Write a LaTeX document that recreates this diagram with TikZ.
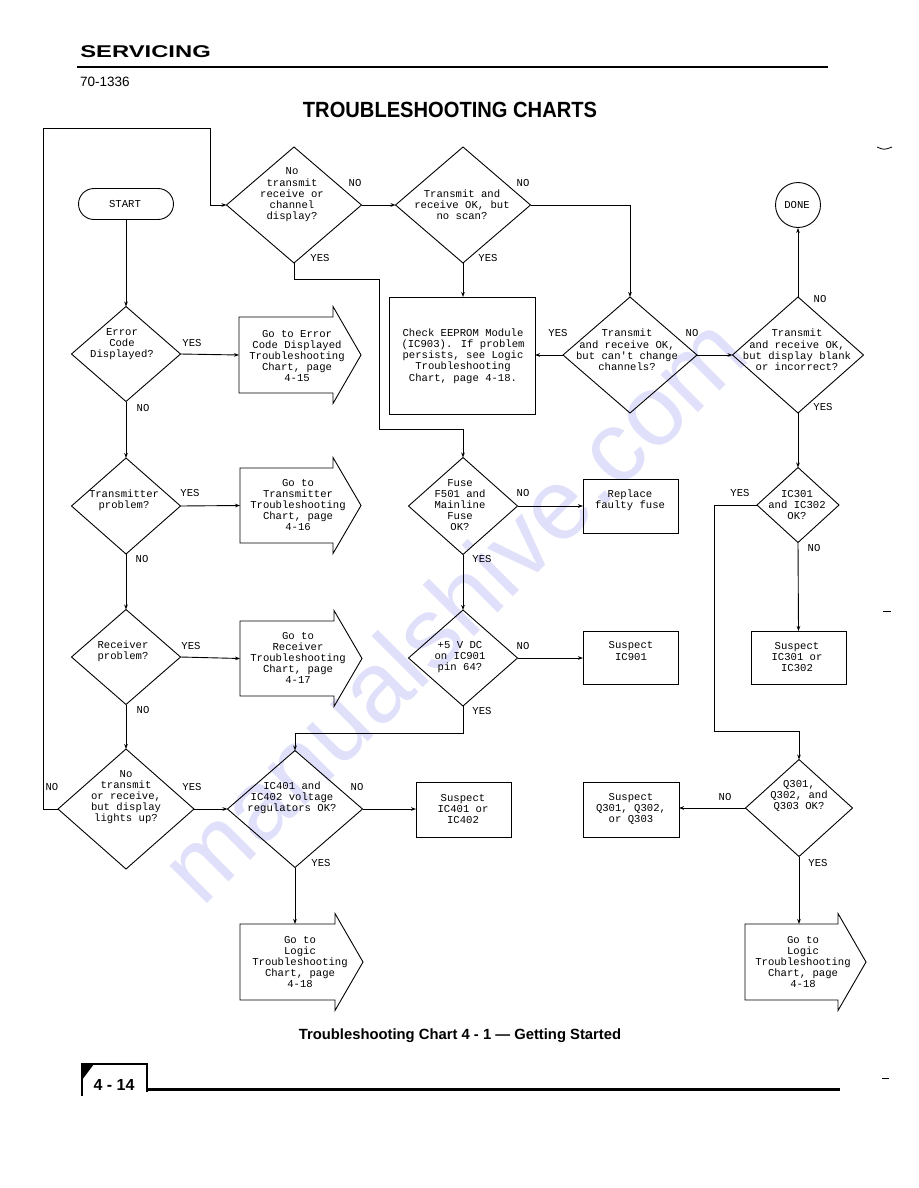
\documentclass[tikz,border=0pt]{standalone}
\usepackage{fontspec}
\setmainfont{Liberation Sans}
\newfontfamily\plotfont{Liberation Mono}
\usetikzlibrary{shapes.geometric,arrows.meta,calc}
\definecolor{wmcol}{RGB}{224,224,251}
\newcommand\drawgo[1]{%
  \draw[ln] (#1.south west) -- (#1.north west) -- (#1.north east) -- ([yshift=10.5pt]#1.north east)
    -- ([xshift=28pt]#1.east) -- ([yshift=-10.5pt]#1.south east) -- (#1.south east) -- cycle;}
\begin{document}
\begin{tikzpicture}[x=1pt,y=-1pt,
  ln/.style={line width=0.9pt},
  arr/.style={ln,-{Stealth[length=5pt,width=3.6pt]}},
  dia/.style={draw,ln,diamond,inner sep=0pt,outer sep=0pt},
  box/.style={draw,ln,rectangle,inner sep=0pt,outer sep=0pt},
  gorect/.style={rectangle,inner sep=0pt,outer sep=0pt},
  txt/.style={font=\plotfont\fontsize{10.6}{11.2}\selectfont,align=center,inner sep=0pt},
  lab/.style={font=\plotfont\fontsize{10.6}{11.2}\selectfont,inner sep=0pt}]
\useasboundingbox (0,0) rectangle (918,1188);
\fill[white] (0,0) rectangle (918,1188);
% watermark
\node[rotate=45,text=wmcol,font=\fontsize{100}{100}\selectfont,inner sep=0pt] (wm) at (452,608) {manualshive.com};
% header
\node[font=\bfseries\fontsize{17}{17}\selectfont,xscale=1.4,anchor=west,inner sep=0pt] (hdr) at (80,52) {SERVICING};
\draw[line width=2.8pt] (77,67) -- (828,67);
\node[font=\fontsize{13.5}{13.5}\selectfont,anchor=west,inner sep=0pt] (num) at (80,82) {70-1336};
\node[font=\bfseries\fontsize{22}{22}\selectfont,xscale=0.915,inner sep=0pt] (title) at (450,110) {TROUBLESHOOTING CHARTS};
% terminals
\node[draw,ln,rectangle,rounded corners=15.5pt,minimum width=95,minimum height=31,inner sep=0pt] (start) at (126,204) {};
\node[txt] (startt) at (125,204) {START};
\node[draw,ln,circle,minimum size=45,inner sep=0pt] (done) at (798,205) {};
\node[txt] (donet) at (797,205) {DONE};
% diamonds
\node[dia,minimum width=135,minimum height=116] (d1) at (294,205) {};
\node[txt] (d1t) at (292,195) {No\\transmit\\receive or\\channel\\display?};
\node[dia,minimum width=135,minimum height=116] (d2) at (463,205) {};
\node[txt] (d2t) at (462,205) {Transmit and\\receive OK, but\\no scan?};
\node[dia,minimum width=134,minimum height=116] (d3) at (630,355) {};
\node[txt] (d3t) at (627,350) {Transmit\\and receive OK,\\but can't change\\channels?};
\node[dia,minimum width=131,minimum height=116] (d4) at (798,355) {};
\node[txt] (d4t) at (797,350) {Transmit\\and receive OK,\\but display blank\\or incorrect?};
\node[dia,minimum width=109,minimum height=95] (err) at (126,354) {};
\node[txt] (errt) at (122,344) {Error\\Code\\Displayed?};
\node[dia,minimum width=109,minimum height=96] (tr) at (126,506) {};
\node[txt] (trt) at (124,500) {Transmitter\\problem?};
\node[dia,minimum width=109,minimum height=95] (rc) at (126,657) {};
\node[txt] (rct) at (123,651) {Receiver\\problem?};
\node[dia,minimum width=136,minimum height=120] (bl) at (126,809) {};
\node[txt] (blt) at (126,797) {No\\transmit\\or receive,\\but display\\lights up?};
\node[dia,minimum width=109,minimum height=97] (fu) at (463,506) {};
\node[txt] (fut) at (460,505) {Fuse\\F501 and\\Mainline\\Fuse\\OK?};
\node[dia,minimum width=109,minimum height=96] (p5) at (463,658) {};
\node[txt] (p5t) at (460,657) {+5 V DC\\on IC901\\pin 64?};
\node[dia,minimum width=135,minimum height=117] (ic4) at (295,809) {};
\node[txt] (ic4t) at (292,798) {IC401 and\\IC402 voltage\\regulators OK?};
\node[dia,minimum width=82,minimum height=75] (ic3) at (798,505) {};
\node[txt] (ic3t) at (797,505) {IC301\\and IC302\\OK?};
\node[dia,minimum width=107,minimum height=97] (q) at (799,808) {};
\node[txt] (qt) at (799,796) {Q301,\\Q302, and\\Q303 OK?};
% boxes
\node[box,minimum width=146,minimum height=117] (eep) at (462,355.5) {};
\node[txt] (eept) at (463,356) {Check EEPROM Module\\(IC903). If problem\\persists, see Logic\\Troubleshooting\\Chart, page 4-18.};
\node[box,minimum width=95,minimum height=54] (rep) at (630.5,506) {};
\node[txt] (rept) at (630,500) {Replace\\faulty fuse};
\node[box,minimum width=95,minimum height=53] (s9) at (630.5,657.5) {};
\node[txt] (s9t) at (631,651) {Suspect\\IC901};
\node[box,minimum width=95,minimum height=53] (s3) at (798.5,657.5) {};
\node[txt] (s3t) at (797,657) {Suspect\\IC301 or\\IC302};
\node[box,minimum width=95,minimum height=55] (s4) at (463.5,809.5) {};
\node[txt] (s4t) at (463,809) {Suspect\\IC401 or\\IC402};
\node[box,minimum width=96,minimum height=55] (sq) at (631,809.5) {};
\node[txt] (sqt) at (631,809) {Suspect\\Q301, Q302,\\or Q303};
% go-to arrows
\node[gorect,minimum width=94,minimum height=76] (gerr) at (286,355) {};
\drawgo{gerr}
\node[txt] (gerrt) at (297,356) {Go to Error\\Code Displayed\\Troubleshooting\\Chart, page\\4-15};
\node[gorect,minimum width=93,minimum height=75] (gtr) at (286.5,505.5) {};
\drawgo{gtr}
\node[txt] (gtrt) at (298,505) {Go to\\Transmitter\\Troubleshooting\\Chart, page\\4-16};
\node[gorect,minimum width=94,minimum height=75] (grc) at (287,658.5) {};
\drawgo{grc}
\node[txt] (grct) at (298,658) {Go to\\Receiver\\Troubleshooting\\Chart, page\\4-17};
\node[gorect,minimum width=95,minimum height=76] (glL) at (287.5,962) {};
\drawgo{glL}
\node[txt] (glLt) at (300,962) {Go to\\Logic\\Troubleshooting\\Chart, page\\4-18};
\node[gorect,minimum width=93,minimum height=76] (glR) at (791.5,962) {};
\drawgo{glR}
\node[txt] (glRt) at (803,962) {Go to\\Logic\\Troubleshooting\\Chart, page\\4-18};
% helper coordinates
\coordinate (L1) at (43,128);
\coordinate (L2) at (210,128);
\coordinate (Y1) at (379,279);
\coordinate (Y2) at (379,429);
\coordinate (M1) at (295,733);
\coordinate (R1) at (714,731);
% connectors
\draw[arr] (start.south) -- (err.north);
\draw[arr] (err.south) -- (tr.north);
\draw[arr] (tr.south) -- (rc.north);
\draw[arr] (rc.south) -- (bl.north);
\draw[arr] (err.east) -- (gerr.west);
\draw[arr] (tr.east) -- (gtr.west);
\draw[arr] (rc.east) -- (grc.west);
\draw[arr] (bl.east) -- (ic4.west);
\draw[arr] (bl.west) -| (L1) -- (L2) |- (d1.west);
\draw[arr] (d1.east) -- (d2.west);
\draw[arr] (d1.south) |- (Y1) -- (Y2) -| (fu.north);
\draw[arr] (d2.south) -- (d2.south |- eep.north);
\draw[arr] (d2.east) -| (d3.north);
\draw[arr] (d3.west) -- (d3.west -| eep.east);
\draw[arr] (d3.east) -- (d4.west);
\draw[arr] (d4.north) -- (done.south);
\draw[arr] (d4.south) -- (ic3.north);
\draw[arr] (ic3.south) -- (s3.north);
\draw[arr] (ic3.west) -| (R1) -| (q.north);
\draw[arr] (q.west) -- (q.west -| sq.east);
\draw[arr] (q.south) -- (q.south |- glR.north);
\draw[arr] (fu.east) -- (fu.east -| rep.west);
\draw[arr] (fu.south) -- (p5.north);
\draw[arr] (p5.east) -- (p5.east -| s9.west);
\draw[arr] (p5.south) |- (M1) -- (ic4.north);
\draw[arr] (ic4.east) -- (ic4.east -| s4.west);
\draw[arr] (ic4.south) -- (ic4.south |- glL.north);
% YES / NO labels
\node[lab] (l1) at (355,183) {NO};
\node[lab] (l2) at (320,258) {YES};
\node[lab] (l3) at (523,183) {NO};
\node[lab] (l4) at (488,258) {YES};
\node[lab] (l5) at (820,299) {NO};
\node[lab] (l6) at (192,343) {YES};
\node[lab] (l7) at (143,408) {NO};
\node[lab] (l8) at (558,333) {YES};
\node[lab] (l9) at (692,333) {NO};
\node[lab] (l10) at (823,407) {YES};
\node[lab] (l11) at (190,493) {YES};
\node[lab] (l12) at (142,559) {NO};
\node[lab] (l13) at (523,493) {NO};
\node[lab] (l14) at (482,559) {YES};
\node[lab] (l15) at (191,646) {YES};
\node[lab] (l16) at (143,710) {NO};
\node[lab] (l17) at (523,646) {NO};
\node[lab] (l18) at (482,711) {YES};
\node[lab] (l19) at (740,493) {YES};
\node[lab] (l20) at (814,548) {NO};
\node[lab] (l21) at (192,787) {YES};
\node[lab] (l22) at (52,787) {NO};
\node[lab] (l23) at (357,787) {NO};
\node[lab] (l24) at (321,863) {YES};
\node[lab] (l25) at (725,797) {NO};
\node[lab] (l26) at (818,863) {YES};
% caption
\node[font=\bfseries\fontsize{14.8}{14.8}\selectfont,inner sep=0pt] (cap) at (460,1036) {Troubleshooting Chart 4 - 1 \textemdash\ Getting Started};
% footer
\draw[line width=1.3pt] (82,1096) -- (82,1064) -- (147,1064) -- (147,1092);
\fill (82,1080) -- (82,1065) -- (94,1064) -- cycle;
\node[font=\bfseries\fontsize{16}{16}\selectfont,inner sep=0pt] (pg) at (114,1085) {4 - 14};
\draw[line width=3pt] (147,1089) -- (840,1089);
% scan marks
\draw[line width=0.8pt] (877,147) .. controls (884,150) .. (892,147);
\draw[line width=0.8pt] (883,611) -- (891,611);
\draw[line width=0.8pt] (882,1078) -- (889,1078);
\end{tikzpicture}
\end{document}
